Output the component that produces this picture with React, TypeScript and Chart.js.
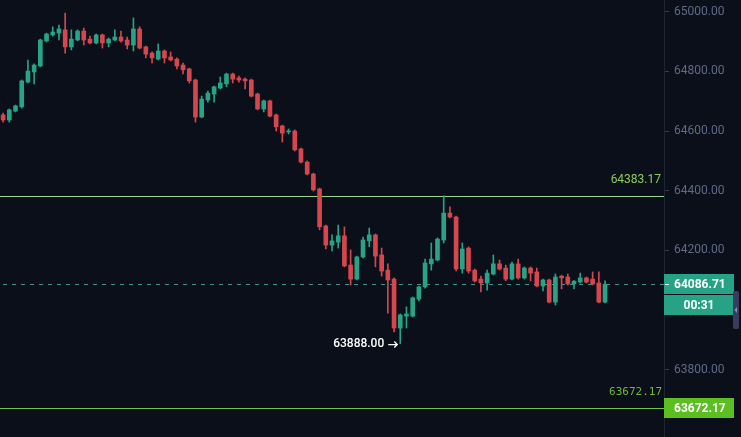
import React, { useEffect, useRef } from "react";
import { Chart, registerables } from "chart.js";

Chart.register(...registerables);

// ---- data ----
const OPEN = [
  64654, 64637, 64667, 64681, 64764, 64798, 64818, 64902, 64922, 64928,
  64939, 64882, 64905, 64935, 64908, 64895, 64922, 64895, 64905, 64915,
  64905, 64888, 64942, 64882, 64861, 64841, 64868, 64848, 64841, 64821,
  64808, 64771, 64647, 64704, 64724, 64744, 64758, 64791, 64778, 64774,
  64771, 64724, 64674, 64701, 64654, 64617, 64597, 64600, 64540, 64496,
  64456, 64406, 64282, 64218, 64228, 64249, 64151, 64104, 64178, 64232,
  64252, 64185, 64134, 64104, 63940, 63980, 63980, 64037, 64078, 64155,
  64168, 64235, 64325, 64312, 64138, 64208, 64134, 64104, 64091, 64121,
  64155, 64141, 64104, 64155, 64108, 64141, 64128, 64081, 64101, 64027,
  64114, 64111, 64088, 64094, 64108, 64104, 64091, 64027,
];
const HIGH = [
  64660, 64674, 64687, 64771, 64838, 64825, 64908, 64928, 64949, 64955,
  64995, 64939, 64939, 64945, 64918, 64925, 64925, 64912, 64939, 64935,
  64915, 64979, 64949, 64885, 64865, 64892, 64872, 64865, 64845, 64828,
  64811, 64774, 64717, 64734, 64751, 64781, 64794, 64794, 64784, 64778,
  64774, 64727, 64704, 64704, 64657, 64620, 64607, 64604, 64543, 64500,
  64459, 64409, 64285, 64252, 64285, 64279, 64202, 64181, 64245, 64275,
  64255, 64208, 64155, 64108, 63987, 64011, 64044, 64081, 64171, 64225,
  64242, 64383.17, 64346, 64315, 64225, 64212, 64138, 64114, 64134, 64185,
  64168, 64151, 64161, 64171, 64145, 64145, 64141, 64104, 64104, 64121,
  64117, 64121, 64099, 64124, 64111, 64128, 64128, 64098,
];
const LOW = [
  64630, 64630, 64664, 64677, 64761, 64758, 64815, 64898, 64918, 64905,
  64861, 64872, 64902, 64888, 64892, 64892, 64878, 64882, 64902, 64898,
  64875, 64868, 64875, 64845, 64828, 64838, 64828, 64835, 64808, 64791,
  64761, 64630, 64644, 64697, 64697, 64741, 64748, 64761, 64764, 64741,
  64714, 64671, 64664, 64647, 64600, 64563, 64590, 64533, 64493, 64453,
  64399, 64269, 64205, 64198, 64208, 64145, 64084, 64101, 64175, 64212,
  64145, 64114, 63990, 63927, 63888, 63940, 63977, 64031, 64074, 64134,
  64165, 64225, 64309, 64131, 64124, 64124, 64094, 64061, 64067, 64118,
  64134, 64098, 64101, 64104, 64104, 64098, 64078, 64064, 64024, 64017,
  64071, 64084, 64071, 64091, 64091, 64084, 64024, 64024,
];
const CLOSE = [
  64637, 64671, 64684, 64768, 64801, 64821, 64905, 64925, 64932, 64942,
  64882, 64908, 64935, 64905, 64895, 64922, 64895, 64908, 64915, 64902,
  64888, 64942, 64878, 64858, 64845, 64868, 64845, 64838, 64818, 64805,
  64768, 64647, 64707, 64727, 64748, 64761, 64791, 64774, 64771, 64768,
  64717, 64674, 64701, 64650, 64614, 64593, 64600, 64537, 64496, 64456,
  64403, 64279, 64218, 64232, 64249, 64148, 64104, 64178, 64235, 64252,
  64181, 64131, 64101, 63940, 63984, 63987, 64041, 64078, 64158, 64171,
  64238, 64325, 64312, 64138, 64205, 64131, 64098, 64091, 64124, 64155,
  64138, 64104, 64155, 64108, 64141, 64124, 64081, 64101, 64027, 64111,
  64108, 64088, 64097, 64108, 64094, 64088, 64027, 64086.71,
];
const EMPTY_SLOTS = 9;
const Y_TICKS = [63800, 64000, 64200, 64400, 64600, 64800, 65000];
const Y_MIN = 63575;
const Y_MAX = 65039;
const LAST_PRICE = 64086.71;
const COUNTDOWN = "00:31";
const UPPER_LEVEL = 64383.17;
const LOWER_LEVEL = 63672.17;
const LOW_MARK = 63888.0;
const LOW_MARK_INDEX = 64;

// ---- styles ----
const BG = "#0b0f19";
const GREEN = "#27a387";
const RED = "#d5464e";
const TEAL_BOX = "#26a386";
const AXIS_WIDTH = 77;

const overlay = {
  id: "overlay",
  beforeDraw(chart: any) {
    const { ctx } = chart;
    ctx.save();
    ctx.fillStyle = BG;
    ctx.fillRect(0, 0, chart.width, chart.height);
    ctx.restore();
  },
  beforeDatasetsDraw(chart: any) {
    const { ctx, chartArea: ca } = chart;
    const y = chart.scales.y;
    ctx.save();
    ctx.lineWidth = 1;
    const yU = Math.round(y.getPixelForValue(UPPER_LEVEL)) + 0.5;
    ctx.strokeStyle = "#9bd690";
    ctx.beginPath();
    ctx.moveTo(ca.left, yU);
    ctx.lineTo(ca.right, yU);
    ctx.stroke();
    const yL = Math.round(y.getPixelForValue(LOWER_LEVEL)) + 0.5;
    ctx.strokeStyle = "#74c24c";
    ctx.beginPath();
    ctx.moveTo(ca.left, yL);
    ctx.lineTo(ca.right, yL);
    ctx.stroke();
    const yP = Math.round(y.getPixelForValue(LAST_PRICE)) + 0.5;
    ctx.strokeStyle = "#3f938c";
    ctx.setLineDash([4, 5]);
    ctx.beginPath();
    ctx.moveTo(ca.left + 3, yP);
    ctx.lineTo(ca.right, yP);
    ctx.stroke();
    ctx.restore();
  },
  afterDraw(chart: any) {
    const { ctx, chartArea: ca } = chart;
    const y = chart.scales.y;
    const x = chart.scales.x;
    ctx.save();
    // level labels
    ctx.textAlign = "right";
    ctx.textBaseline = "middle";
    ctx.font = '12px "Roboto", sans-serif';
    ctx.fillStyle = "#8ccc5c";
    ctx.fillText(UPPER_LEVEL.toFixed(2), ca.right - 3, y.getPixelForValue(UPPER_LEVEL) - 16);
    ctx.font = '11px "DejaVu Sans Mono", monospace';
    ctx.fillStyle = "#6fb93c";
    ctx.fillText(LOWER_LEVEL.toFixed(2), ca.right - 2, y.getPixelForValue(LOWER_LEVEL) - 16);

    // price boxes on the axis
    const bx = ca.right;
    const bw = 70;
    const yP = Math.round(y.getPixelForValue(LAST_PRICE));
    ctx.fillStyle = TEAL_BOX;
    ctx.fillRect(bx, yP - 10, bw, 20);
    ctx.fillRect(bx, yP + 11, bw, 20);
    const yL = Math.round(y.getPixelForValue(LOWER_LEVEL));
    ctx.fillStyle = "#5bbf22";
    ctx.fillRect(bx, yL - 10, bw, 20);

    ctx.fillStyle = "#ffffff";
    ctx.font = 'bold 12px "Roboto", sans-serif';
    ctx.textAlign = "left";
    ctx.fillText(LAST_PRICE.toFixed(2), bx + 10, yP + 0.5);
    ctx.fillText(LOWER_LEVEL.toFixed(2), bx + 10, yL + 0.5);
    ctx.textAlign = "center";
    ctx.fillText(COUNTDOWN, bx + 35, yP + 21.5);

    // small tick in price box
    ctx.strokeStyle = "#e8f5f1";
    ctx.beginPath();
    ctx.moveTo(bx + 1, yP + 0.5);
    ctx.lineTo(bx + 5, yP + 0.5);
    ctx.stroke();

    // right edge handle
    ctx.fillStyle = "#363d60";
    ctx.beginPath();
    (ctx as any).roundRect(733, yP + 7, 6, 38, 2);
    ctx.fill();
    ctx.fillStyle = "#8a91b8";
    ctx.beginPath();
    ctx.moveTo(737, yP + 23);
    ctx.lineTo(734.5, yP + 26);
    ctx.lineTo(737, yP + 29);
    ctx.closePath();
    ctx.fill();

    // lowest price annotation
    const lx = x.getPixelForValue(LOW_MARK_INDEX);
    const ly = y.getPixelForValue(LOW_MARK);
    ctx.fillStyle = "#ffffff";
    ctx.textAlign = "right";
    ctx.textBaseline = "middle";
    ctx.font = '500 12px "Roboto", sans-serif';
    ctx.fillText(LOW_MARK.toFixed(2), lx - 16, ly);
    // arrow
    ctx.strokeStyle = "#ffffff";
    ctx.lineWidth = 1.3;
    ctx.beginPath();
    ctx.moveTo(lx - 12, ly + 1);
    ctx.lineTo(lx - 3, ly + 1);
    ctx.moveTo(lx - 6, ly - 2);
    ctx.lineTo(lx - 3, ly + 1);
    ctx.lineTo(lx - 6, ly + 4);
    ctx.stroke();
    ctx.restore();
  },
};

export default function App() {
  const ref = useRef<HTMLCanvasElement>(null);
  useEffect(() => {
    document.body.style.margin = "0";
    document.body.style.background = BG;
    const n = OPEN.length;
    const labels = Array.from({ length: n + EMPTY_SLOTS }, (_, i) => String(i));
    const colors = CLOSE.map((c, i) => (c >= OPEN[i] ? GREEN : RED));
    const bodies = OPEN.map((o, i) => [Math.min(o, CLOSE[i]), Math.max(o, CLOSE[i])]);
    const wicks = LOW.map((l, i) => [l, HIGH[i]]);
    const chart = new Chart(ref.current as HTMLCanvasElement, {
      type: "bar",
      data: {
        labels,
        datasets: [
          {
            data: bodies as any,
            backgroundColor: colors,
            barThickness: 4,
            grouped: false,
            minBarLength: 1,
            borderWidth: 0,
          } as any,
          {
            data: wicks as any,
            backgroundColor: colors,
            barThickness: 1,
            grouped: false,
            borderWidth: 0,
          } as any,
        ],
      },
      options: {
        animation: false,
        responsive: true,
        maintainAspectRatio: false,
        devicePixelRatio: 1,
        layout: { padding: 0 },
        plugins: {
          legend: { display: false },
          tooltip: { enabled: false },
        },
        scales: {
          x: {
            display: false,
            offset: true,
            grid: { display: false },
          },
          y: {
            position: "right",
            min: Y_MIN,
            max: Y_MAX,
            afterBuildTicks: (s: any) => {
              s.ticks = Y_TICKS.map((v) => ({ value: v }));
            },
            afterFit: (s: any) => {
              s.width = AXIS_WIDTH;
              s.paddingTop = 0;
              s.paddingBottom = 0;
            },
            grid: {
              drawOnChartArea: false,
              drawTicks: true,
              tickLength: 5,
              color: "#333a4d",
            },
            border: { display: true, color: "#1e2433" },
            ticks: {
              color: "#5f6a86",
              font: { family: "Roboto", size: 12 },
              padding: 5,
              callback: (v: any) => Number(v).toFixed(2),
            },
          } as any,
        },
      },
      plugins: [overlay],
    });
    return () => chart.destroy();
  }, []);
  return (
    <div style={{ width: 741, height: 437, position: "relative" }}>
      <canvas ref={ref} />
    </div>
  );
}
